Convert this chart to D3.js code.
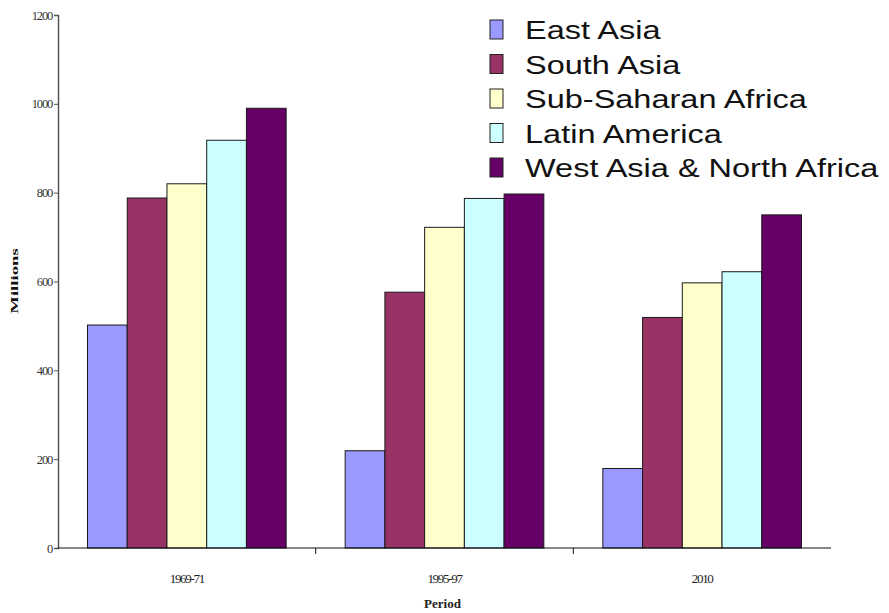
<!DOCTYPE html>
<html>
<head>
<meta charset="utf-8">
<script src="https://cdn.jsdelivr.net/npm/d3@7"></script>
<style>
  html, body { margin: 0; padding: 0; background: #fff; }
  svg { display: block; }
</style>
</head>
<body>
<svg id="chart" width="889" height="613"></svg>
<script>
// Undernourished population by region and period (millions)
const periods = ["1969-71", "1995-97", "2010"];
const regions = ["East Asia", "South Asia", "Sub-Saharan Africa", "Latin America", "West Asia & North Africa"];
const eastAsia = [502, 219, 179];
const southAsia = [788, 576, 519];
const subSaharanAfrica = [820, 722, 597];
const latinAmerica = [918, 787, 622];
const westAsiaNorthAfrica = [990, 797, 750];
const yTicks = [0, 200, 400, 600, 800, 1000, 1200];
const regionColors = ["#9999ff", "#993366", "#ffffcc", "#ccffff", "#660066"];

const seriesValues = [eastAsia, southAsia, subSaharanAfrica, latinAmerica, westAsiaNorthAfrica];

const svg = d3.select("#chart");
const plot = { left: 58, right: 831, top: 15, bottom: 548 };
const serif = "'Liberation Serif', 'Times New Roman', serif";

const x0 = d3.scaleBand().domain(periods).range([plot.left, plot.right]).padding(0);
const x1 = d3.scaleBand().domain(regions).range([29.5, x0.bandwidth() - 29.5]).padding(0);
const y = d3.scaleLinear().domain([0, 1200]).range([plot.bottom, plot.top]);
const color = d3.scaleOrdinal().domain(regions).range(regionColors);

// Bars
const groups = svg.append("g").selectAll("g")
  .data(periods)
  .join("g")
  .attr("transform", d => `translate(${x0(d)},0)`);

groups.selectAll("rect")
  .data((p, i) => regions.map((r, k) => ({ region: r, value: seriesValues[k][i] })))
  .join("rect")
  .attr("x", d => x1(d.region))
  .attr("y", d => y(d.value))
  .attr("width", x1.bandwidth())
  .attr("height", d => y(0) - y(d.value))
  .attr("fill", d => color(d.region))
  .attr("stroke", "#1a1a1a")
  .attr("stroke-width", 1);

// Y axis
const yAxis = svg.append("g")
  .attr("transform", `translate(${plot.left},0)`)
  .call(d3.axisLeft(y).tickValues(yTicks).tickSize(4).tickPadding(2).tickFormat(d3.format("d")));
yAxis.select(".domain").attr("stroke", "#555").attr("stroke-width", 1.5);
yAxis.selectAll(".tick line").attr("stroke", "#555");
yAxis.selectAll("text")
  .attr("font-family", serif)
  .attr("font-size", 12.5)
  .attr("fill", "#333")
  .attr("letter-spacing", -1.2);

// X axis with ticks on band boundaries
const xAxis = svg.append("g")
  .attr("transform", `translate(0,${plot.bottom})`);
xAxis.append("line")
  .attr("x1", plot.left).attr("x2", plot.right)
  .attr("stroke", "#111").attr("stroke-width", 1.2);
xAxis.selectAll("line.tick")
  .data(periods.slice(1))
  .join("line")
  .attr("class", "tick")
  .attr("x1", d => x0(d)).attr("x2", d => x0(d))
  .attr("y1", 0).attr("y2", 6)
  .attr("stroke", "#111");
xAxis.selectAll("text")
  .data(periods)
  .join("text")
  .attr("x", d => x0(d) + x0.bandwidth() / 2)
  .attr("y", 35)
  .attr("text-anchor", "middle")
  .attr("font-family", serif)
  .attr("font-size", 13)
  .attr("letter-spacing", -1.3)
  .attr("fill", "#222")
  .text(d => d);

// Axis titles
svg.append("text")
  .attr("x", (plot.left + plot.right) / 2 - 2)
  .attr("y", 608)
  .attr("text-anchor", "middle")
  .attr("font-family", serif)
  .attr("font-size", 13)
  .attr("font-weight", "bold")
  .attr("fill", "#222")
  .text("Period");

svg.append("text")
  .attr("transform", "translate(18,281) rotate(-90) scale(1.7,1)")
  .attr("text-anchor", "middle")
  .attr("font-family", serif)
  .attr("font-size", 11)
  .attr("font-weight", "bold")
  .attr("fill", "#111")
  .text("Millions");

// Legend
const legend = svg.append("g").attr("transform", "translate(490,0)");
const rows = legend.selectAll("g")
  .data(regions)
  .join("g")
  .attr("transform", (d, i) => `translate(0,${39 + i * 34.5})`);
rows.append("rect")
  .attr("x", 0).attr("y", -19)
  .attr("width", 13).attr("height", 19)
  .attr("fill", d => color(d))
  .attr("stroke", "#222")
  .attr("stroke-width", 1);
rows.append("text")
  .attr("transform", "translate(35,0) scale(1.3,1)")
  .attr("font-family", "Arial, 'Liberation Sans', sans-serif")
  .attr("font-size", 25)
  .attr("fill", "#111")
  .text(d => d);
</script>
</body>
</html>
